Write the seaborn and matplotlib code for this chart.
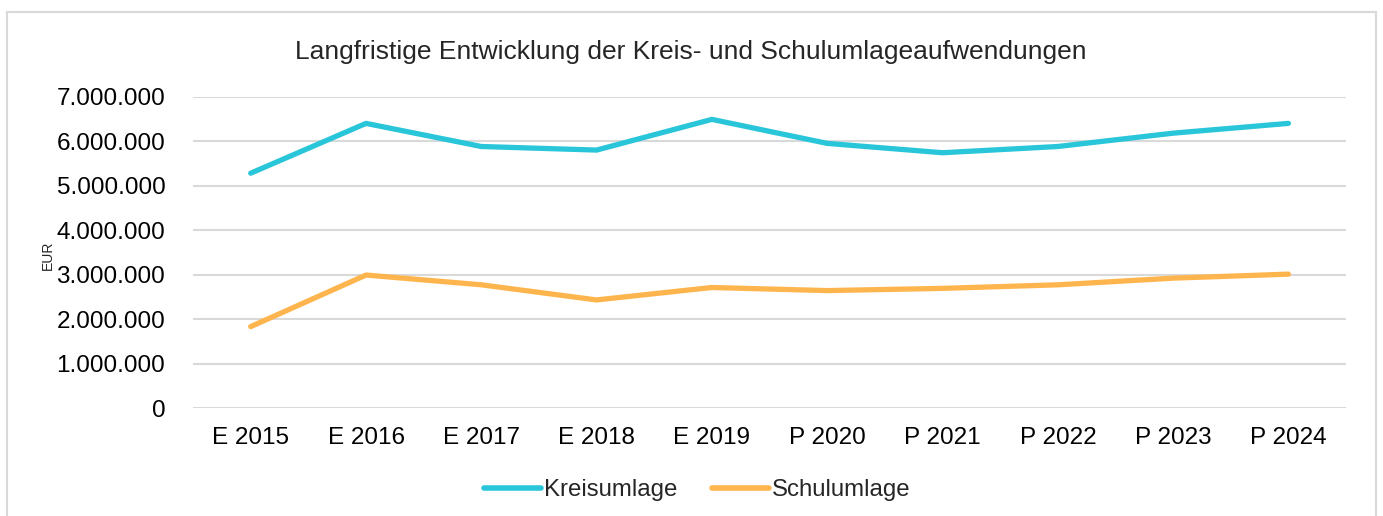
import matplotlib
matplotlib.use("Agg")
import matplotlib.pyplot as plt
import matplotlib.ticker as mticker
import pandas as pd
import seaborn as sns

years = ['E 2015', 'E 2016', 'E 2017', 'E 2018', 'E 2019',
         'P 2020', 'P 2021', 'P 2022', 'P 2023', 'P 2024']
kreisumlage = [5280000, 6400000, 5880000, 5800000, 6490000,
               5950000, 5740000, 5880000, 6180000, 6400000]
schulumlage = [1830000, 2990000, 2770000, 2430000, 2710000,
               2640000, 2690000, 2770000, 2920000, 3010000]
series = ['Kreisumlage', 'Schulumlage']
colors = ['#29C6DA', '#FFB54D']

df = pd.DataFrame({
    'jahr': years * 2,
    'wert': kreisumlage + schulumlage,
    'reihe': [series[0]] * len(years) + [series[1]] * len(years),
})

sns.set_style('white')
plt.rcParams['font.family'] = ['Liberation Sans', 'DejaVu Sans']

fig = plt.figure(figsize=(13.83, 5.16), dpi=100)
ax = fig.add_axes([0.1396, 0.2093, 0.8337, 0.6033])

# light grey frame around the whole chart
fig.patches.append(plt.Rectangle((0.005, -0.01), 0.99, 0.987, transform=fig.transFigure,
                                 fill=False, edgecolor='#d9d9d9', linewidth=1.5))

sns.lineplot(data=df, x='jahr', y='wert', hue='reihe', palette=colors,
             linewidth=3.8, sort=False, ax=ax, legend=True)
for line in ax.get_lines():
    line.set_solid_capstyle('round')
    line.set_solid_joinstyle('round')

ax.set_ylim(0, 7000000)
ax.set_xlim(-0.5, len(years) - 0.5)
ax.yaxis.set_major_locator(mticker.MultipleLocator(1000000))
ax.yaxis.set_major_formatter(mticker.FuncFormatter(lambda v, p: f'{v:,.0f}'.replace(',', '.')))
ax.grid(axis='y', color='#d9d9d9', linewidth=1.5)
ax.set_axisbelow(True)
for s in ax.spines.values():
    s.set_visible(False)
ax.tick_params(axis='both', length=0, labelsize=17.5, colors='#000000')
ax.tick_params(axis='x', pad=14)
ax.tick_params(axis='y', pad=20)
ax.set_xlabel('')
ax.set_ylabel('EUR', fontsize=10)
ax.yaxis.set_label_coords(-0.12, 0.49)

fig.text(0.4995, 0.9, 'Langfristige Entwicklung der Kreis- und Schulumlageaufwendungen',
         ha='center', va='center', fontsize=19)

handles, labels = ax.get_legend_handles_labels()
ax.get_legend().remove()
for h in handles:
    h.set_linewidth(4)
    h.set_solid_capstyle('round')
fig.legend(handles, labels, loc='center', bbox_to_anchor=(0.504, 0.05), ncol=2,
           frameon=False, fontsize=17.3, handlelength=2.4, handletextpad=0.1,
           columnspacing=1.45)

fig.savefig('out.png', dpi=100)
